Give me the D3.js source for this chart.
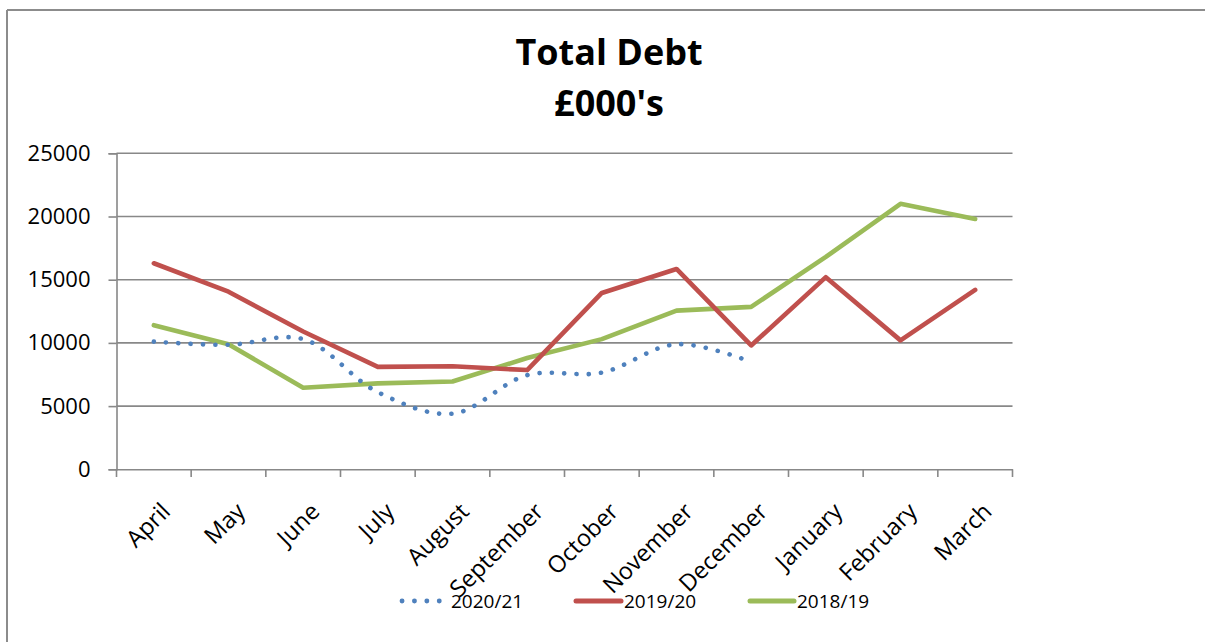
<!DOCTYPE html>
<html><head><meta charset="utf-8">
<script src="https://cdn.jsdelivr.net/npm/d3@7"></script>
<style>body{margin:0;background:#fff}svg{display:block}text{font-family:"Open Sans",sans-serif}</style>
</head><body>
<script>
const months = ["April","May","June","July","August","September","October","November","December","January","February","March"];
const s2021 = [10100, 9850, 10300, 6100, 4400, 7450, 7650, 9900, 8500, null, null, null];
const s1920 = [16300, 14050, 10900, 8100, 8150, 7850, 13950, 15850, 9800, 15200, 10200, 14200];
const s1819 = [11400, 9900, 6450, 6800, 6950, 8800, 10300, 12550, 12850, 16800, 21000, 19800];
const yTicks = [0, 5000, 10000, 15000, 20000, 25000];
const seriesNames = ["2020/21", "2019/20", "2018/19"];
const colors = ["#4F81BD", "#C0504D", "#9BBB59"];

const W = 1205, H = 642;
const svg = d3.select("body").append("svg").attr("width", W).attr("height", H);

// frame
svg.append("line").attr("x1",7).attr("x2",W).attr("y1",10).attr("y2",10).attr("stroke","#8c8c8c").attr("stroke-width",2);
svg.append("line").attr("x1",7).attr("x2",7).attr("y1",10).attr("y2",H).attr("stroke","#8c8c8c").attr("stroke-width",2);

// title
svg.append("text").attr("x",609).attr("y",65).attr("text-anchor","middle").attr("font-weight","bold").attr("font-size",36).text("Total Debt");
svg.append("text").attr("x",609).attr("y",116).attr("text-anchor","middle").attr("font-weight","bold").attr("font-size",36).text("£000's");

const x = d3.scaleBand().domain(months).range([116.5, 1012.5]);
const y = d3.scaleLinear().domain([0, 25000]).range([469.3, 153.3]);

// gridlines
svg.append("g").selectAll("line").data(yTicks.filter(d=>d>0)).join("line")
  .attr("x1", 116.5).attr("x2", 1012.5).attr("y1", d=>y(d)).attr("y2", d=>y(d))
  .attr("stroke", "#888").attr("stroke-width", 1.6);

// y axis
const yAxis = svg.append("g").attr("transform","translate(116.5,0)")
  .call(d3.axisLeft(y).tickValues(yTicks).tickSize(8).tickPadding(18).tickFormat(d3.format("d")));
yAxis.select(".domain").attr("stroke","#888").attr("stroke-width",1.6);
yAxis.selectAll(".tick line").attr("stroke","#888").attr("stroke-width",1.6);
yAxis.selectAll(".tick text").attr("font-size",22).attr("fill","#000").attr("font-family","Open Sans");

// x axis
const xAxis = svg.append("g").attr("transform","translate(0,469.3)")
  .call(d3.axisBottom(x).tickSize(0).tickFormat(""));
xAxis.select(".domain").attr("stroke","#888").attr("stroke-width",1.6);
const bounds = months.map(m => x(m)).concat([1012.5]);
svg.append("g").selectAll("line").data(bounds).join("line")
  .attr("x1", d=>d).attr("x2", d=>d).attr("y1", 469.3).attr("y2", 477)
  .attr("stroke","#888").attr("stroke-width",1.6);
svg.append("g").selectAll("text").data(months).join("text")
  .attr("transform", d => `translate(${x(d)+x.bandwidth()/2+6},${501}) rotate(-45)`)
  .attr("text-anchor","end").attr("dy","0.72em").attr("font-size",23.5).attr("fill","#000")
  .text(d=>d);

// lines
const cx = d => x(d) + x.bandwidth()/2;
const mk = (vals, curve) => d3.line().defined(d => d.v != null).x(d => cx(d.m)).y(d => y(d.v)).curve(curve)(months.map((m,i)=>({m, v: vals[i]})));

svg.append("path").attr("d", mk(s1819, d3.curveLinear)).attr("fill","none").attr("stroke",colors[2]).attr("stroke-width",4.6).attr("stroke-linejoin","round").attr("stroke-linecap","round");
svg.append("path").attr("d", mk(s1920, d3.curveLinear)).attr("fill","none").attr("stroke",colors[1]).attr("stroke-width",4.6).attr("stroke-linejoin","round").attr("stroke-linecap","round");
svg.append("path").attr("d", mk(s2021, d3.curveCatmullRom.alpha(0.5))).attr("fill","none").attr("stroke",colors[0]).attr("stroke-width",4.6).attr("stroke-linecap","round").attr("stroke-dasharray","0.1 12.2");

// legend
const leg = [
  {name: seriesNames[0], c: colors[0], x0: 402, x1: 440, tx: 451, dash: true},
  {name: seriesNames[1], c: colors[1], x0: 576, x1: 621, tx: 624, dash: false},
  {name: seriesNames[2], c: colors[2], x0: 750, x1: 794, tx: 797, dash: false}
];
const lg = svg.append("g").selectAll("g").data(leg).join("g");
lg.append("line").attr("x1", d=>d.x0).attr("x2", d=>d.x1).attr("y1", 601).attr("y2", 601)
  .attr("stroke", d=>d.c).attr("stroke-width", d=>d.dash?4.8:5).attr("stroke-linecap","round")
  .attr("stroke-dasharray", d=>d.dash?"0.1 12.3":null);
lg.append("text").attr("x", d=>d.tx).attr("y", 608).attr("font-size", 19).attr("fill","#000").text(d=>d.name);
</script>
</body></html>
